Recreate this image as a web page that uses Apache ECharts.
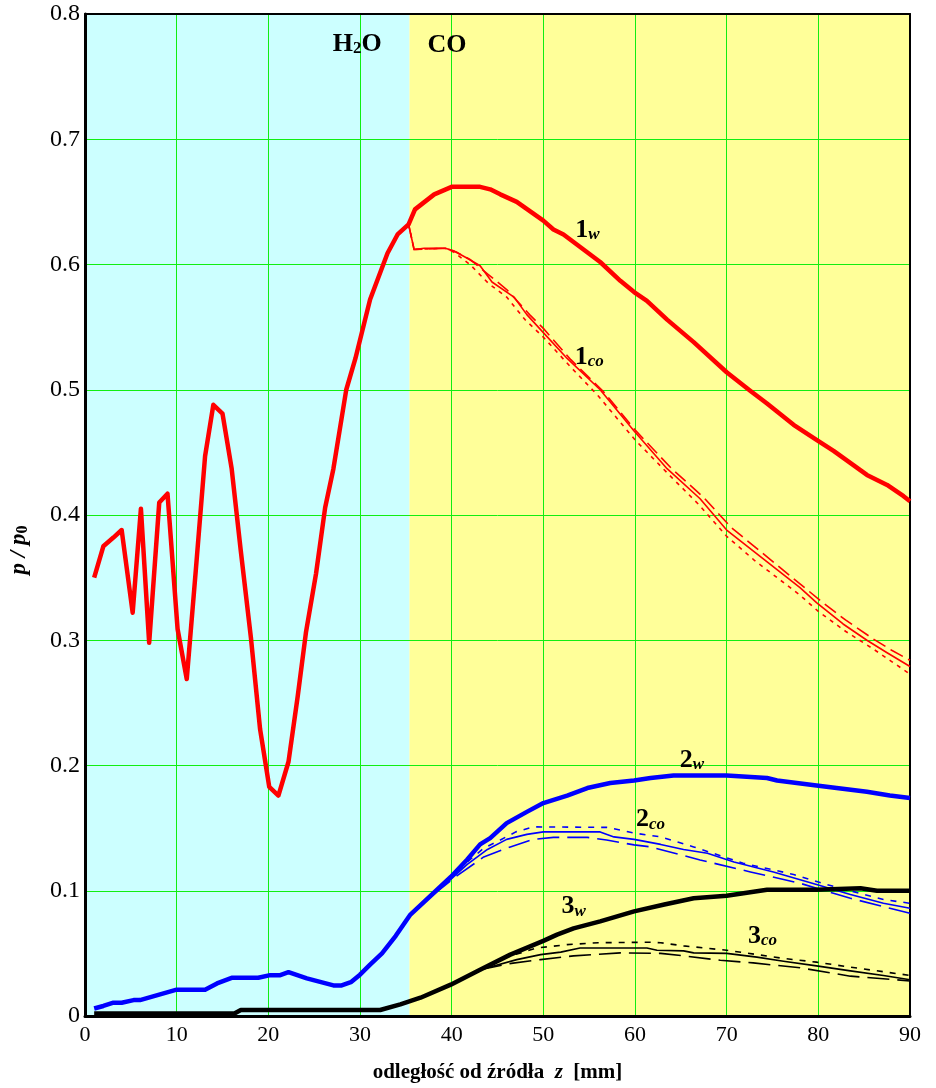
<!DOCTYPE html>
<html>
<head>
<meta charset="utf-8">
<script src="https://cdn.jsdelivr.net/npm/echarts@6/dist/echarts.min.js"></script>
<style>
html,body{margin:0;padding:0;background:#fff;}
#chart{width:936px;height:1088px;}
</style>
</head>
<body>
<div id="chart"></div>
<script>
// ---- tick labels / axes ----
const xTicks = [0,10,20,30,40,50,60,70,80,90];
const yTicks = [0,0.1,0.2,0.3,0.4,0.5,0.6,0.7,0.8];
const regionH2O = [0, 35.4];
const regionCO = [35.4, 90];

// ---- curve 1 (red) : [z, p/p0] ----
const curve1w = [
  [1.0,0.350],[2.0,0.375],[3.1,0.382],[4.0,0.388],[5.2,0.322],[6.1,0.405],[7.0,0.298],
  [8.1,0.410],[9.0,0.417],[10.1,0.309],[11.1,0.269],[12.1,0.357],[13.1,0.447],[14.0,0.488],
  [15.0,0.481],[16.0,0.437],[17.0,0.371],[18.1,0.302],[19.1,0.229],[20.1,0.183],[21.1,0.176],
  [22.2,0.203],[23.2,0.255],[24.1,0.306],[25.2,0.353],[26.2,0.406],[27.1,0.437],[28.5,0.500],
  [29.5,0.525],[31.1,0.572],[33.0,0.609],[34.1,0.624],[35.3,0.632],
  [36.0,0.644],[38.1,0.656],[40.0,0.662],[43.1,0.662],[44.2,0.660],[45.3,0.656],[47.1,0.650],
  [50.0,0.635],[51.1,0.628],[52.2,0.624],[56.2,0.602],[58.4,0.587],[59.9,0.578],[61.3,0.571],
  [63.5,0.556],[66.4,0.538],[70.0,0.514],[72.6,0.499],[74.4,0.489],[77.3,0.472],[79.8,0.460],
  [81.7,0.451],[85.3,0.432],[87.5,0.424],[89.3,0.415],[90.0,0.411]
];
const curve1coSolid = [
  [35.3,0.632],[35.9,0.612],[37.0,0.613],[39.3,0.613],[40.2,0.611],[41.7,0.605],[43.1,0.599],
  [44.4,0.586],[46.8,0.574],[48.2,0.560],[49.7,0.548],[52.6,0.525],[56.2,0.500],[59.9,0.467],
  [63.5,0.437],[67.1,0.413],[70.0,0.388],[73.3,0.369],[78.0,0.342],[79.8,0.330],[82.7,0.313],
  [85.3,0.300],[87.5,0.290],[90.0,0.279]
];
const curve1coDash = [
  [35.3,0.632],[35.9,0.612],[39.3,0.613],[40.5,0.610],[42.0,0.604],[44.0,0.592],[46.0,0.580],
  [48.5,0.560],[50.0,0.549],[53.0,0.524],[56.5,0.499],[60.0,0.468],[64.0,0.437],[67.5,0.414],
  [70.5,0.390],[73.5,0.372],[78.0,0.345],[80.5,0.330],[83.0,0.316],[86.0,0.301],[88.0,0.292],
  [90.0,0.284]
];
const curve1coDot = [
  [35.3,0.632],[35.9,0.612],[39.3,0.613],[40.2,0.610],[42.0,0.600],[44.0,0.585],[46.0,0.574],
  [48.0,0.556],[50.0,0.542],[53.0,0.518],[56.0,0.495],[60.0,0.460],[64.0,0.430],[67.0,0.408],
  [70.0,0.383],[73.0,0.364],[78.0,0.336],[80.0,0.323],[83.0,0.307],[86.0,0.293],[88.0,0.283],
  [90.0,0.273]
];

// ---- curve 2 (blue) ----
const curve2w = [
  [1.0,0.006],[2.0,0.008],[3.1,0.0106],[4.0,0.0106],[5.3,0.0127],[6.0,0.0127],[10.0,0.021],
  [13.1,0.021],[14.4,0.026],[16.0,0.0305],[18.9,0.0305],[20.2,0.0326],[21.3,0.0326],[22.2,0.035],
  [24.2,0.030],[27.1,0.0244],[28.0,0.0244],[29.0,0.027],[30.0,0.033],[31.1,0.041],[32.4,0.050],
  [33.9,0.064],[35.5,0.081],[38.0,0.098],[39.9,0.111],[41.7,0.125],[43.1,0.137],[44.2,0.142],
  [46.0,0.154],[48.2,0.163],[50.0,0.170],[52.6,0.176],[54.8,0.182],[57.3,0.186],[59.9,0.188],
  [61.7,0.190],[64.2,0.192],[70.0,0.192],[74.4,0.190],[75.5,0.188],[79.8,0.184],[82.0,0.182],
  [85.3,0.179],[87.8,0.176],[90.0,0.174]
];
const curve2coSolid = [
  [35.5,0.081],[38.0,0.098],[39.9,0.109],[41.7,0.121],[43.9,0.133],[46.0,0.141],[48.2,0.145],
  [50.0,0.147],[56.2,0.147],[57.7,0.143],[59.9,0.141],[62.8,0.137],[65.3,0.133],[67.9,0.130],
  [70.8,0.123],[75.1,0.115],[79.8,0.105],[83.5,0.097],[87.1,0.090],[90.0,0.086]
];
const curve2coDot = [
  [35.5,0.081],[38.0,0.098],[39.9,0.110],[41.7,0.123],[43.5,0.134],[44.9,0.139],[47.0,0.147],
  [48.9,0.151],[56.9,0.1506],[58.4,0.1485],[59.9,0.146],[62.8,0.143],[66.4,0.135],[71.8,0.122],
  [77.3,0.113],[80.9,0.105],[87.1,0.093],[90.0,0.090]
];
const curve2coDash = [
  [35.5,0.081],[38.0,0.097],[40.6,0.112],[43.5,0.127],[46.4,0.135],[48.9,0.141],[51.1,0.1426],
  [54.8,0.1426],[56.9,0.1405],[59.9,0.1366],[61.7,0.135],[67.1,0.1246],[72.6,0.115],[78.0,0.106],
  [83.5,0.094],[90.0,0.082]
];

// ---- curve 3 (black) ----
const curve3w = [
  [1.0,0.002],[16.3,0.002],[17.0,0.0048],[32.2,0.0048],[34.4,0.0093],[36.6,0.0146],[39.9,0.025],
  [43.1,0.037],[46.4,0.049],[50.0,0.060],[51.5,0.065],[53.3,0.070],[56.2,0.0756],[59.9,0.0835],
  [63.2,0.089],[66.4,0.094],[70.0,0.096],[74.4,0.1008],[79.8,0.1008],[84.6,0.102],[86.4,0.100],
  [90.0,0.100]
];
const curve3coSolid = [
  [43.1,0.037],[43.9,0.0385],[47.1,0.045],[49.7,0.049],[51.9,0.051],[54.0,0.0543],[61.3,0.0543],
  [62.4,0.0525],[65.3,0.052],[66.4,0.0504],[70.0,0.050],[73.3,0.047],[76.2,0.0437],[79.8,0.040],
  [83.5,0.036],[87.1,0.0324],[90.0,0.029]
];
const curve3coDot = [
  [43.1,0.037],[46.0,0.047],[49.3,0.0543],[52.6,0.057],[56.0,0.0585],[61.7,0.0589],[62.8,0.0585],
  [65.3,0.056],[70.0,0.0525],[76.2,0.046],[79.8,0.043],[83.5,0.039],[90.0,0.0324]
];
const curve3coDash = [
  [43.1,0.037],[46.5,0.042],[49.7,0.045],[53.3,0.048],[58.4,0.0504],[62.8,0.050],[65.7,0.0477],
  [69.3,0.0445],[72.9,0.0424],[78.0,0.0385],[83.5,0.0318],[90.0,0.028]
];

// ---- annotation texts at data coordinates ----
const annotations = [
  {pos:[29.7,0.777], main:'H', sub:'2', tail:'O', italic:false},
  {pos:[39.5,0.776], main:'CO', sub:'', tail:'', italic:false},
  {pos:[54.8,0.628], main:'1', sub:'w', tail:'', italic:true},
  {pos:[55.0,0.527], main:'1', sub:'co', tail:'', italic:true},
  {pos:[66.2,0.205], main:'2', sub:'w', tail:'', italic:true},
  {pos:[61.7,0.1575], main:'2', sub:'co', tail:'', italic:true},
  {pos:[53.3,0.088], main:'3', sub:'w', tail:'', italic:true},
  {pos:[73.9,0.0644], main:'3', sub:'co', tail:'', italic:true}
];

const FONT = "'Liberation Serif','Times New Roman',serif";
const RED = '#ff0000', BLUE = '#0000ff', BLACK = '#000000';

function lineSeries(name, data, color, width, type) {
  return {
    name, type:'line', data, showSymbol:false, symbol:'none', z:3,
    lineStyle:{color, width, type: type || 'solid', cap:'butt', join:'round'},
    silent:true, animation:false
  };
}

const series = [
  {
    type:'line', data:[], z:1, silent:true, animation:false,
    markArea:{
      silent:true, z:1,
      data:[
        [{xAxis:regionH2O[0], itemStyle:{color:'#ccffff'}},{xAxis:regionH2O[1]}],
        [{xAxis:regionCO[0], itemStyle:{color:'#ffff99'}},{xAxis:regionCO[1]}]
      ]
    }
  },
  lineSeries('1co-dash', curve1coDash, RED, 1.6, [14,6]),
  lineSeries('1co-dot', curve1coDot, RED, 1.6, [4,5]),
  lineSeries('1co', curve1coSolid, RED, 1.6),
  lineSeries('1w', curve1w, RED, 4.5),
  lineSeries('2co-dash', curve2coDash, BLUE, 1.6, [22,8]),
  lineSeries('2co-dot', curve2coDot, BLUE, 1.6, [6,7]),
  lineSeries('2co', curve2coSolid, BLUE, 1.6),
  lineSeries('2w', curve2w, BLUE, 4.5),
  lineSeries('3co-dash', curve3coDash, BLACK, 1.6, [22,8]),
  lineSeries('3co-dot', curve3coDot, BLACK, 1.6, [6,7]),
  lineSeries('3co', curve3coSolid, BLACK, 1.6),
  lineSeries('3w', curve3w, BLACK, 4.5),
  {
    type:'scatter', z:5, silent:true, animation:false, symbol:'circle', symbolSize:0,
    itemStyle:{color:'#000', opacity:1},
    data: annotations.map(a => a.pos),
    label:{
      show:true, position:'inside',
      color:'#000', opacity:1, textBorderWidth:0,
      formatter: p => {
        const a = annotations[p.dataIndex];
        let s = '{m|' + a.main + '}';
        if (a.sub) s += (a.italic ? '{si|' : '{sn|') + a.sub + '}';
        if (a.tail) s += '{m|' + a.tail + '}';
        return s;
      },
      rich:{
        m:{fontFamily:FONT, fontSize:26, fontWeight:'bold', color:'#000', lineHeight:28, verticalAlign:'bottom'},
        si:{fontFamily:FONT, fontSize:17, fontWeight:'bold', fontStyle:'italic', color:'#000', lineHeight:14, verticalAlign:'bottom'},
        sn:{fontFamily:FONT, fontSize:17, fontWeight:'bold', color:'#000', lineHeight:14, verticalAlign:'bottom'}
      }
    }
  }
];

const chart = echarts.init(document.getElementById('chart'), null, {renderer:'canvas'});
chart.setOption({
  backgroundColor:'#ffffff',
  animation:false,
  grid:{left:85, right:26, top:14, bottom:68, show:false},
  xAxis:[
    {
      type:'value', min:xTicks[0], max:xTicks[xTicks.length-1], interval:10, z:2,
      position:'bottom',
      axisLine:{show:true, onZero:false, lineStyle:{color:'#000', width:3}},
      axisTick:{show:false},
      splitLine:{show:true, lineStyle:{color:'#11ee11', width:1}},
      axisLabel:{fontFamily:FONT, fontSize:22, color:'#000', margin:8},
      name:'{b|odległość od źródła  }{i|z}{b|  [mm]}',
      nameLocation:'middle', nameGap:46,
      nameTextStyle:{
        rich:{
          b:{fontFamily:FONT, fontSize:21, fontWeight:'bold', color:'#000'},
          i:{fontFamily:FONT, fontSize:21, fontWeight:'bold', fontStyle:'italic', color:'#000'}
        }
      }
    },
    {
      type:'value', min:xTicks[0], max:xTicks[xTicks.length-1], position:'top', z:2,
      axisLine:{show:true, onZero:false, lineStyle:{color:'#000', width:2}},
      axisTick:{show:false}, axisLabel:{show:false}, splitLine:{show:false}
    }
  ],
  yAxis:[
    {
      type:'value', min:yTicks[0], max:yTicks[yTicks.length-1], interval:0.1, z:2,
      position:'left',
      axisLine:{show:true, onZero:false, lineStyle:{color:'#000', width:3}},
      axisTick:{show:false},
      splitLine:{show:true, lineStyle:{color:'#11ee11', width:1}},
      axisLabel:{fontFamily:FONT, fontSize:24, color:'#000', margin:5,
        formatter: v => (Math.round(v*10)/10).toString()}
    },
    {
      type:'value', min:yTicks[0], max:yTicks[yTicks.length-1], position:'right', z:2,
      axisLine:{show:true, onZero:false, lineStyle:{color:'#000', width:2}},
      axisTick:{show:false}, axisLabel:{show:false}, splitLine:{show:false}
    }
  ],
  graphic:[
    {
      type:'text', x:18, y:550, rotation:Math.PI/2, z:10,
      style:{
        text:'{i|p / p}{s|0}',
        rich:{
          i:{fontFamily:FONT, fontSize:23, fontWeight:'bold', fontStyle:'italic', fill:'#000', lineHeight:26, verticalAlign:'bottom'},
          s:{fontFamily:FONT, fontSize:16, fontWeight:'bold', fill:'#000', lineHeight:12, verticalAlign:'bottom'}
        },
        align:'center', verticalAlign:'middle'
      }
    }
  ],
  series
});
</script>
</body>
</html>
